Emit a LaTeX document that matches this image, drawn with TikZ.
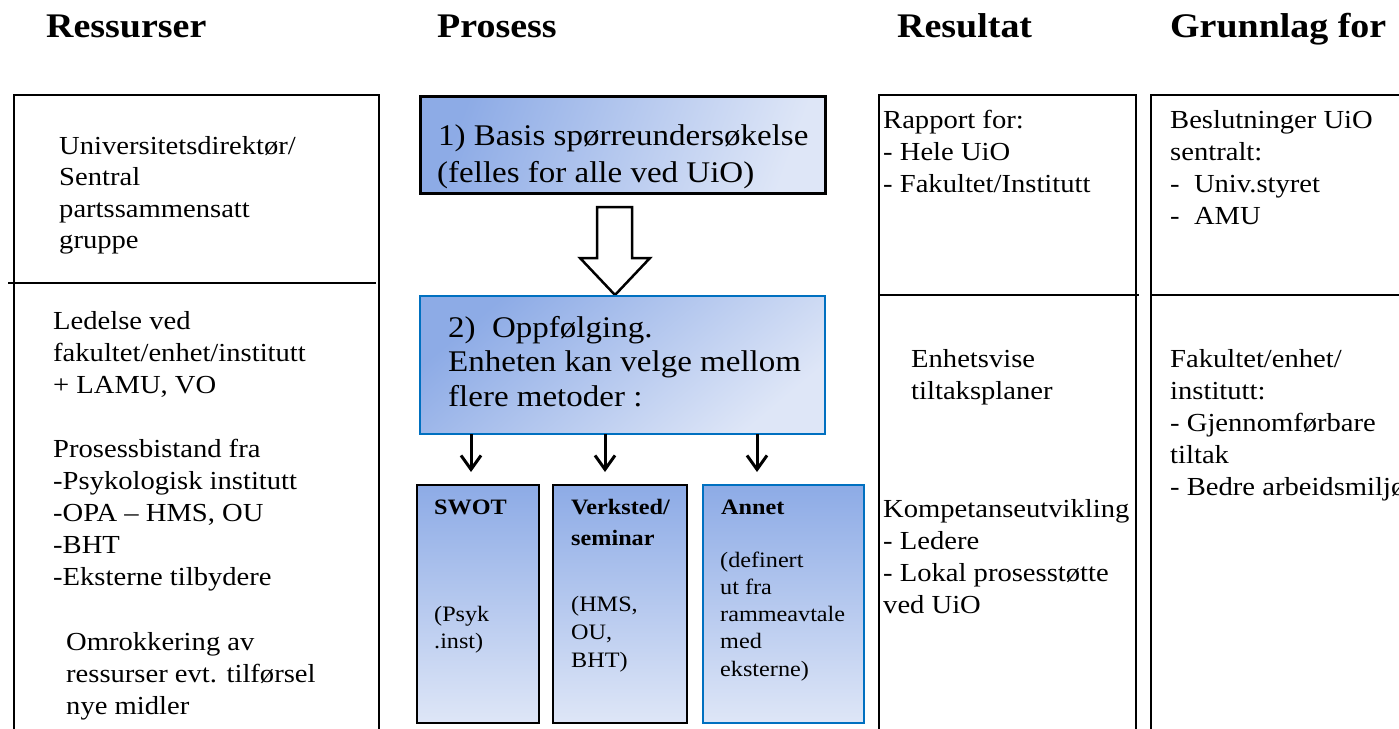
\documentclass[tikz,border=0pt]{standalone}
\usepackage{fontspec}
\setmainfont{Liberation Serif}[FakeStretch=1.1]
\usetikzlibrary{arrows.meta,calc}
\definecolor{gdark}{RGB}{141,171,230}
\definecolor{glight}{RGB}{222,230,247}
\definecolor{bord}{RGB}{0,112,192}
\begin{document}
\begin{tikzpicture}[x=1pt,y=-1pt,
  txt/.style={anchor=base west, inner sep=0pt, font=\fontsize{26}{32}\selectfont},
  ttl/.style={anchor=base west, inner sep=0pt, font=\bfseries\fontsize{34.5}{40}\selectfont},
  boxtxt/.style={anchor=base west, inner sep=0pt, font=\fontsize{30}{36}\selectfont},
  smtxt/.style={anchor=base west, inner sep=0pt, font=\fontsize{22}{27}\selectfont},
  smbold/.style={anchor=base west, inner sep=0pt, font=\bfseries\fontsize{22}{27}\selectfont},
  frame/.style={draw=black, anchor=north west, inner sep=0pt, outer sep=0pt},
  hgrad/.style={top color=gdark, bottom color=glight, shading angle=70},
  dgrad/.style={top color=gdark, bottom color=glight, shading angle=40},
  vgrad/.style={top color=gdark, bottom color=glight},
  arr/.style={line width=3, -{Straight Barb[length=14,width=20,line width=3]}},
  divider/.style={line width=2.2}
]
\useasboundingbox (0,0) rectangle (1399,728);
\fill[white] (0,0) rectangle (1399,728);
\clip (0,0) rectangle (1399,728);

% titles
\node[ttl] (t1) at (46,37) {Ressurser};
\node[ttl] (t2) at (437,37) {Prosess};
\node[ttl] (t3) at (897,37) {Resultat};
\node[ttl] (t4) at (1170,37) {Grunnlag for};

% left column
\node[frame, line width=1.5, minimum width=365, minimum height=700] (lb) at (14,95) {};
\coordinate (dl) at (8,283);
\draw[divider] (dl) -- ($(lb.east |- dl)+(-3,0)$);
\foreach \t [count=\i from 0] in {Universitetsdirektør/,Sentral,partssammensatt,gruppe}
  \node[txt] (la\i) at (59,{154+31.5*\i}) {\t};
\foreach \t [count=\i from 0] in {Ledelse ved,fakultet/enhet/institutt,{+ LAMU, VO}}
  \node[txt] (lb\i) at (53,{329+32*\i}) {\t};
\foreach \t [count=\i from 0] in {Prosessbistand fra,-Psykologisk institutt,{-OPA – HMS, OU},-BHT,-Eksterne tilbydere}
  \node[txt] (lc\i) at (53,{457+32*\i}) {\t};
\foreach \t [count=\i from 0] in {Omrokkering av,ressurser evt. tilførsel,nye midler}
  \node[txt] (ld\i) at (66,{650+32*\i}) {\t};

% process: box 1
\node[frame, line width=3, hgrad, minimum width=405, minimum height=97] (b1) at (420,96) {};
\node[boxtxt] (b1a) at (438,145) {1) Basis spørreundersøkelse};
\node[boxtxt] (b1b) at (437,182) {(felles for alle ved UiO)};

% block arrow
\coordinate (tip) at (615,295);
\draw[line width=2.5, fill=white, line join=miter]
  (597,207) -- (632,207) -- (632,258) -- (650,258) -- (tip) -- (580,258) -- (597,258) -- cycle;

% process: box 2
\node[frame, draw=bord, line width=2.5, dgrad, minimum width=405, minimum height=138] (b2) at (420,296) {};
\node[boxtxt] (b2a) at (448,337) {2)\ \ Oppfølging.};
\node[boxtxt] (b2b) at (448,371.5) {Enheten kan velge mellom};
\node[boxtxt] (b2c) at (448,406) {flere metoder :};

% small arrows
\coordinate (e1) at (471,472);
\coordinate (e2) at (605,472);
\coordinate (e3) at (757,472);
\draw[arr] (e1 |- b2.south) -- (e1);
\draw[arr] (e2 |- b2.south) -- (e2);
\draw[arr] (e3 |- b2.south) -- (e3);

% method boxes
\node[frame, line width=2.5, vgrad, minimum width=122, minimum height=238] (m1) at (417,485) {};
\node[frame, line width=2.5, vgrad, minimum width=134, minimum height=238] (m2) at (553,485) {};
\node[frame, draw=bord, line width=2.5, vgrad, minimum width=161, minimum height=238] (m3) at (703,485) {};
\node[smbold] (m1a) at (434,514) {SWOT};
\node[smtxt] (m1b) at (434,621) {(Psyk};
\node[smtxt] (m1c) at (434,648) {.inst)};
\node[smbold] (m2a) at (571,514) {Verksted/};
\node[smbold] (m2b) at (571,545) {seminar};
\foreach \t [count=\i from 0] in {{(HMS,},{OU,},{BHT)}}
  \node[smtxt] (m2t\i) at (571,{611+28*\i}) {\t};
\node[smbold] (m3a) at (721,514) {Annet};
\foreach \t [count=\i from 0] in {{(definert},{ut fra},{rammeavtale},{med},{eksterne)}}
  \node[smtxt] (m3t\i) at (720,{567+27.3*\i}) {\t};

% result column
\node[frame, line width=2.5, minimum width=257, minimum height=700] (rb) at (879,95) {};
\coordinate (dr) at (0,295);
\draw[divider] (rb.west |- dr) -- ($(rb.east |- dr)+(3,0)$);
\foreach \t [count=\i from 0] in {Rapport for:,- Hele UiO,- Fakultet/Institutt}
  \node[txt] (ra\i) at (883,{128+32*\i}) {\t};
\foreach \t [count=\i from 0] in {Enhetsvise,tiltaksplaner}
  \node[txt] (rb\i) at (911,{367+32*\i}) {\t};
\foreach \t [count=\i from 0] in {Kompetanseutvikling,- Ledere,- Lokal prosesstøtte,ved UiO}
  \node[txt] (rc\i) at (883,{517+32*\i}) {\t};

% grunnlag column
\node[frame, line width=2.5, minimum width=300, minimum height=700] (gb) at (1151,95) {};
\draw[divider] (gb.west |- dr) -- (gb.east |- dr);
\foreach \t [count=\i from 0] in {Beslutninger UiO,sentralt:,-\ \ Univ.styret,-\ \ AMU}
  \node[txt] (ga\i) at (1170,{128+32*\i}) {\t};
\foreach \t [count=\i from 0] in {Fakultet/enhet/,institutt:,- Gjennomførbare,tiltak,- Bedre arbeidsmiljø}
  \node[txt] (gc\i) at (1170,{367+32*\i}) {\t};
\end{tikzpicture}
\end{document}
